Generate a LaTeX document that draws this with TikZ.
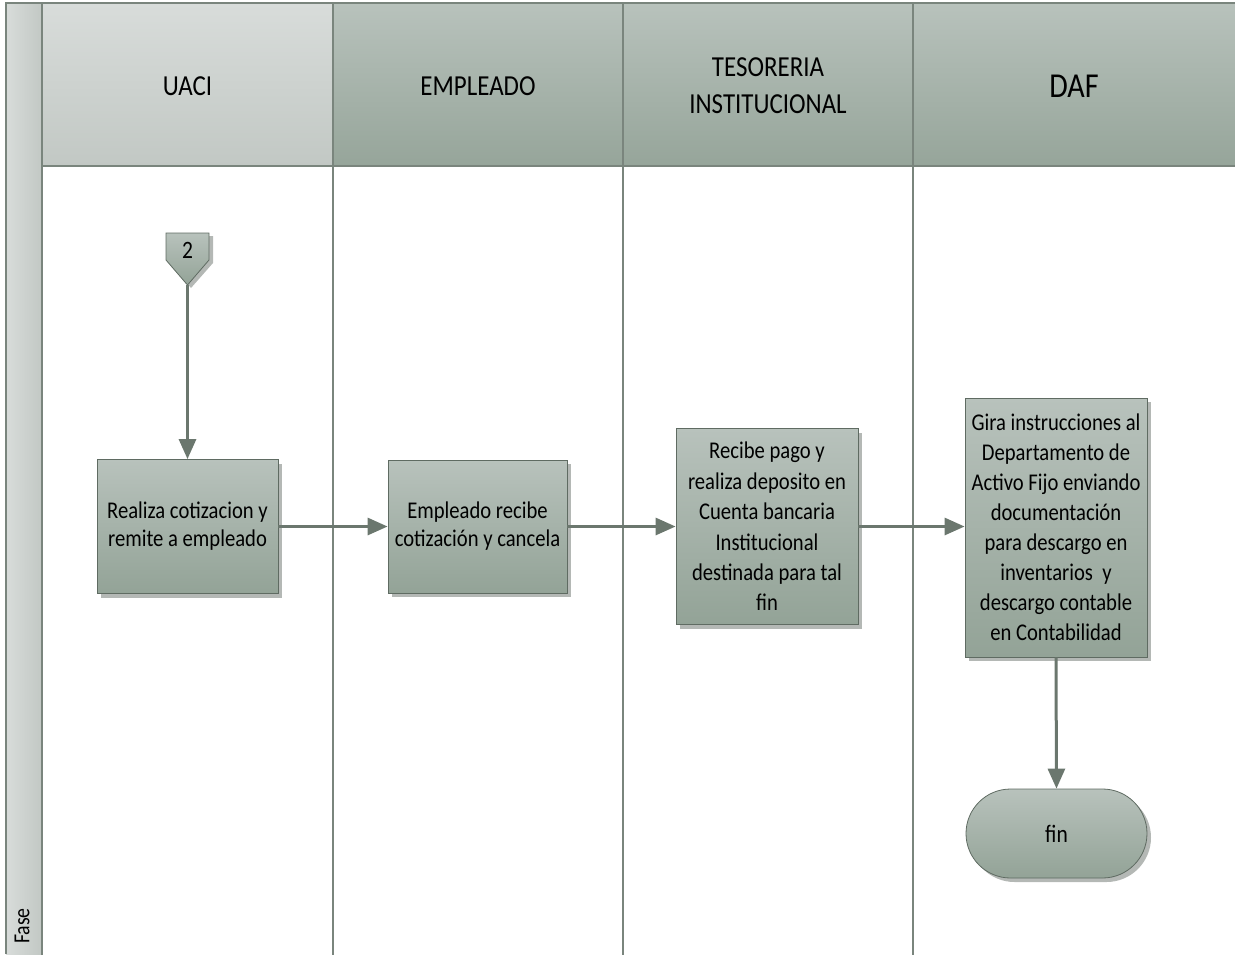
\documentclass[tikz,border=0pt]{standalone}
\usepackage{fontspec}
\setmainfont{Carlito}[FakeStretch=0.86]
\usetikzlibrary{arrows.meta,shadows,shapes.misc}
\newcommand\fsz[2]{\fontsize{#1}{#2}\selectfont}
\definecolor{frameline}{HTML}{7A857D}
\definecolor{connline}{HTML}{6B776E}
\definecolor{boxline}{HTML}{5F6B62}
\definecolor{boxtop}{HTML}{B8C2BC}
\definecolor{boxbot}{HTML}{93A397}
\definecolor{shadowcol}{HTML}{B4B8B5}
\definecolor{hdlighttop}{HTML}{D8DCDA}
\definecolor{hdlightbot}{HTML}{C2C8C4}
\definecolor{hdtop}{HTML}{B8C2BC}
\definecolor{hdbot}{HTML}{96A59A}
\tikzset{
  lanehead/.style={draw=frameline, line width=1.6pt, top color=hdtop, bottom color=hdbot},
  laneline/.style={draw=frameline, line width=1.6pt},
  procbox/.style={draw=boxline, line width=0.8pt, top color=boxtop, bottom color=boxbot,
    align=center, inner sep=0pt, font=\fsz{24}{28},
    drop shadow={shadow xshift=4pt, shadow yshift=-4pt, fill=shadowcol, opacity=1}},
  conn/.style={draw=connline, line width=3pt, -{Triangle[length=20pt,width=17pt]}},
}
\begin{document}
\begin{tikzpicture}[x=1pt,y=-1pt]
\useasboundingbox (0,0) rectangle (1235,954);

% phase column on the left
\path[left color=hdlighttop, right color=hdlightbot] (6,3) rectangle (42,954);
\draw[laneline] (6,954) -- (6,3) -- (1236,3);
\node[rotate=90, font=\fsz{23}{26}] (fase) at (22,926) {Fase};

% lane headers
\path[lanehead, top color=hdlighttop, bottom color=hdlightbot] (42,3) rectangle (333,166);
\path[lanehead] (333,3) rectangle (623,166);
\path[lanehead] (623,3) rectangle (913,166);
\path[lanehead] (913,3) rectangle (1240,166);
\node[font=\fsz{29}{34}] (huaci) at (187.5,86) {UACI};
\node[font=\fsz{29}{34}] (hemp) at (478,86) {EMPLEADO};
\node[font=\fsz{29}{37}, align=center] (htes) at (768,86) {TESORERIA\\INSTITUCIONAL};
\node[font=\fsz{35}{40}] (hdaf) at (1074,86) {DAF};

% lane separators
\foreach \x in {42,333,623,913} \draw[laneline] (\x,166) -- (\x,955);

% off-page connector 2
\fill[shadowcol] (170,236) -- (213,236) -- (213,263) -- (191,288) -- (170,263) -- cycle;
\draw[boxline, line width=0.8pt, top color=boxtop, bottom color=boxbot]
  (166,233) -- (209,233) -- (209,260) -- (187.5,285) -- (166,260) -- cycle;
\node[font=\fsz{25}{26}] (c2) at (187.5,250) {2};
\coordinate (c2tip) at (187.5,285);

% process boxes
\node[procbox, minimum width=181pt, minimum height=134pt] (b1) at (187.5,526.5)
  {Realiza cotizacion y\\remite a empleado};
\node[procbox, minimum width=179pt, minimum height=133pt] (b2) at (477.5,526.5)
  {Empleado recibe\\cotización y cancela};
\node[procbox, minimum width=182pt, minimum height=196pt, font=\fsz{24}{30.4}] (b3) at (767,526.5)
  {Recibe pago y\\realiza deposito en\\Cuenta bancaria\\Institucional\\destinada para tal\\fin};
\node[procbox, minimum width=182pt, minimum height=259pt, font=\fsz{24}{30}] (b4) at (1056,527.5)
  {Gira instrucciones al\\Departamento de\\Activo Fijo enviando\\documentación\\para descargo en\\inventarios~ y\\descargo contable\\en Contabilidad};
\node[procbox, rounded rectangle, minimum width=181pt, minimum height=89pt, font=\fsz{25}{28}] (fin) at (1056.5,833.5) {fin};

% connectors
\draw[conn] (c2tip) -- (b1.north);
\draw[conn] (b1.east) -- (b1.east -| b2.west);
\draw[conn] (b2.east) -- (b2.east -| b3.west);
\draw[conn] (b3.east) -- (b3.east -| b4.west);
\draw[conn] (b4.south) -- (fin.north);
\end{tikzpicture}
\end{document}
